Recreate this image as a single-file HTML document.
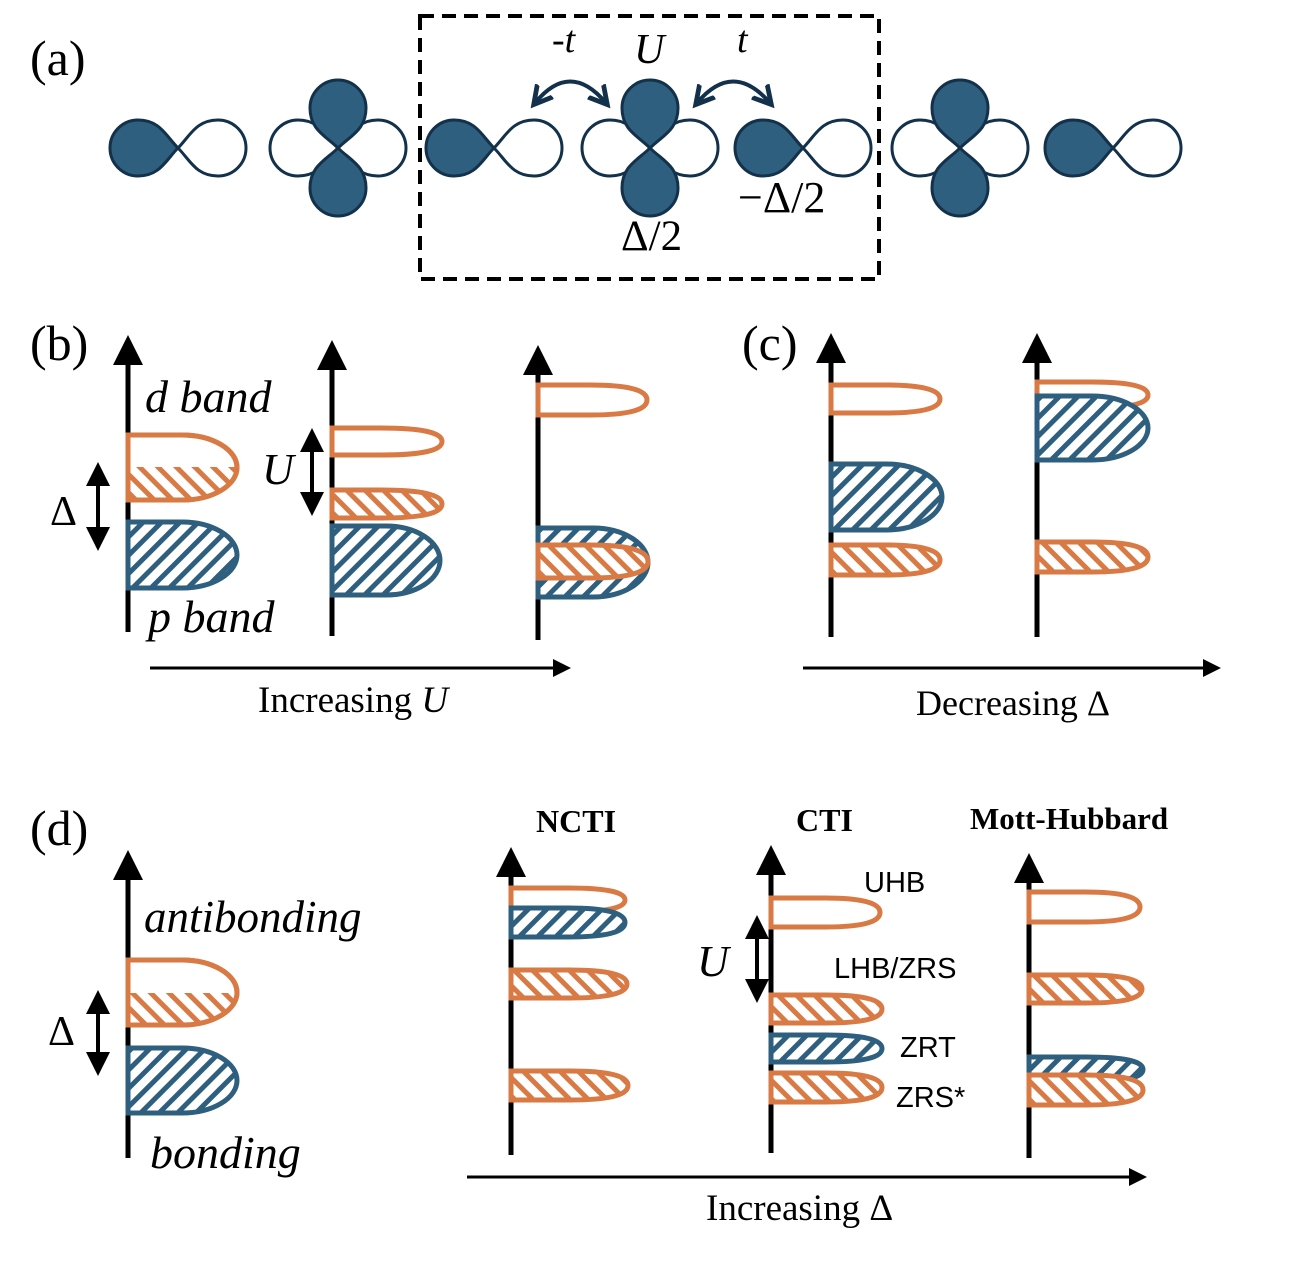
<!DOCTYPE html>
<html><head><meta charset="utf-8"><style>
html,body{margin:0;padding:0;background:#fff}
svg{display:block}
.s{font-family:"Liberation Serif",serif;fill:#000}
.i{font-style:italic}
.a{font-family:"Liberation Sans",sans-serif;fill:#000;font-size:29px}
.o{fill:#fff;stroke:#d97a45;stroke-width:5}
.oh{fill:url(#ho);stroke:#d97a45;stroke-width:5}
.bh{fill:url(#hb);stroke:#2f5f7f;stroke-width:5}
.ax{stroke:#000;stroke-width:5;fill:none}
</style></head><body>
<svg width="1300" height="1274" viewBox="0 0 1300 1274" xmlns="http://www.w3.org/2000/svg">
<defs>
<pattern id="hb" width="13" height="13" patternUnits="userSpaceOnUse" patternTransform="rotate(45)">
<rect width="13" height="13" fill="#fff"/><rect width="5" height="13" fill="#2f5f7f"/></pattern>
<pattern id="ho" width="13" height="13" patternUnits="userSpaceOnUse" patternTransform="rotate(-45)">
<rect width="13" height="13" fill="#fff"/><rect width="5" height="13" fill="#d97a45"/></pattern>
<marker id="ar" markerWidth="6" markerHeight="6" refX="3" refY="3" orient="auto-start-reverse" markerUnits="strokeWidth">
<path d="M0,0 L6,3 L0,6 Z" fill="#000"/></marker>
<marker id="ca" markerWidth="6" markerHeight="6" refX="4" refY="3" orient="auto-start-reverse" markerUnits="strokeWidth">
<path d="M0,0.5 L4.5,3 L0,5.5" fill="none" stroke="#13314a" stroke-width="1.2"/></marker>
<path id="lf" d="M0,0 C12,-12 18,-28 40,-28 A28,28 0 0 1 40,28 C18,28 12,12 0,0Z" fill="#2f5f7f" stroke="#13314a" stroke-width="3"/>
<path id="le" d="M0,0 C12,-12 18,-28 40,-28 A28,28 0 0 1 40,28 C18,28 12,12 0,0Z" fill="#fff" stroke="#13314a" stroke-width="3"/>
<g id="po"><use href="#le"/><use href="#lf" transform="rotate(180)"/></g>
<g id="do"><use href="#le"/><use href="#le" transform="rotate(180)"/><use href="#lf" transform="rotate(90)"/><use href="#lf" transform="rotate(-90)"/></g>
<clipPath id="c1"><rect x="100" y="467" width="200" height="50"/></clipPath>
<clipPath id="c2"><rect x="100" y="993" width="200" height="50"/></clipPath>
</defs>

<!-- (a) -->
<text class="s" x="30" y="75" font-size="50">(a)</text>
<rect x="420" y="16" width="459" height="263" fill="none" stroke="#000" stroke-width="4" stroke-dasharray="14,8"/>
<use href="#po" transform="translate(178,148)"/>
<use href="#do" transform="translate(338,148)"/>
<use href="#po" transform="translate(494,148)"/>
<use href="#do" transform="translate(650,148)"/>
<use href="#po" transform="translate(803,148)"/>
<use href="#do" transform="translate(960,148)"/>
<use href="#po" transform="translate(1113,148)"/>
<path d="M535,103 Q570,60 606,103" fill="none" stroke="#13314a" stroke-width="4" marker-start="url(#ca)" marker-end="url(#ca)"/>
<path d="M697,103 Q733,60 770,103" fill="none" stroke="#13314a" stroke-width="4" marker-start="url(#ca)" marker-end="url(#ca)"/>
<text class="s i" x="552" y="52" font-size="38">-t</text>
<text class="s i" x="634" y="63" font-size="42">U</text>
<text class="s i" x="737" y="52" font-size="38">t</text>
<text class="s" x="621" y="250" font-size="43">Δ/2</text>
<text class="s" x="738" y="212" font-size="44">−Δ/2</text>

<!-- (b) -->
<text class="s" x="30" y="360" font-size="50">(b)</text>
<line class="ax" x1="128" y1="632" x2="128" y2="350" marker-end="url(#ar)"/>
<line class="ax" x1="332" y1="636" x2="332" y2="355" marker-end="url(#ar)"/>
<line class="ax" x1="538" y1="640" x2="538" y2="360" marker-end="url(#ar)"/>
<path class="o" d="M128,435 H182 A55,32.5 0 0 1 182,500 H128Z"/>
<path d="M128,435 H182 A55,32.5 0 0 1 182,500 H128Z" fill="url(#ho)" clip-path="url(#c1)"/>
<path d="M128,435 H182 A55,32.5 0 0 1 182,500 H128Z" fill="none" stroke="#d97a45" stroke-width="5"/>
<path class="bh" d="M128,522 H182 A55,33 0 0 1 182,588 H128Z"/>
<path class="o" d="M332,428 H381 Q442,428 442,441.5 Q442,455 381,455 H332Z"/>
<path class="oh" d="M332,490 H381 Q442,490 442,504 Q442,518 381,518 H332Z"/>
<path class="bh" d="M332,526 H386 A54,34.5 0 0 1 386,595 H332Z"/>
<path class="o" d="M538,385 H590 Q647,385 647,400 Q647,415 590,415 H538Z"/>
<path class="bh" d="M538,528 H593 A55,34.5 0 0 1 593,597 H538Z"/>
<path class="oh" d="M538,545 H590 Q648,545 648,561.5 Q648,578 590,578 H538Z"/>
<line x1="98" y1="474" x2="98" y2="539" stroke="#000" stroke-width="4" marker-start="url(#ar)" marker-end="url(#ar)"/>
<line x1="312" y1="440" x2="312" y2="504" stroke="#000" stroke-width="4" marker-start="url(#ar)" marker-end="url(#ar)"/>
<text class="s" x="50" y="525" font-size="42">Δ</text>
<text class="s i" x="262" y="484" font-size="44">U</text>
<text class="s i" x="145" y="412" font-size="46">d band</text>
<text class="s i" x="148" y="632" font-size="46">p band</text>
<line x1="150" y1="668" x2="562" y2="668" stroke="#000" stroke-width="3" marker-end="url(#ar)"/>
<text class="s" x="258" y="712" font-size="37">Increasing <tspan class="i">U</tspan></text>

<!-- (c) -->
<text class="s" x="742" y="360" font-size="50">(c)</text>
<line class="ax" x1="831" y1="637" x2="831" y2="348" marker-end="url(#ar)"/>
<line class="ax" x1="1037" y1="637" x2="1037" y2="348" marker-end="url(#ar)"/>
<path class="o" d="M831,385 H885 Q940,385 940,399 Q940,413 885,413 H831Z"/>
<path class="bh" d="M831,464 H886 A56,33 0 0 1 886,530 H831Z"/>
<path class="oh" d="M831,545 H885 Q940,545 940,560 Q940,575 885,575 H831Z"/>
<path class="o" d="M1037,382 H1092 Q1148,382 1148,395 Q1148,408 1092,408 H1037Z"/>
<path class="bh" d="M1037,396 H1092 A56,32 0 0 1 1092,460 H1037Z"/>
<path class="oh" d="M1037,542 H1092 Q1148,542 1148,557 Q1148,572 1092,572 H1037Z"/>
<line x1="803" y1="668" x2="1212" y2="668" stroke="#000" stroke-width="3" marker-end="url(#ar)"/>
<text class="s" x="916" y="715" font-size="36">Decreasing Δ</text>

<!-- (d) -->
<text class="s" x="30" y="845" font-size="50">(d)</text>
<line class="ax" x1="128" y1="1158" x2="128" y2="865" marker-end="url(#ar)"/>
<path class="o" d="M128,960 H182 A55,32.5 0 0 1 182,1025 H128Z"/>
<path d="M128,960 H182 A55,32.5 0 0 1 182,1025 H128Z" fill="url(#ho)" clip-path="url(#c2)"/>
<path d="M128,960 H182 A55,32.5 0 0 1 182,1025 H128Z" fill="none" stroke="#d97a45" stroke-width="5"/>
<path class="bh" d="M128,1048 H182 A55,32.5 0 0 1 182,1113 H128Z"/>
<line x1="98" y1="1002" x2="98" y2="1064" stroke="#000" stroke-width="4" marker-start="url(#ar)" marker-end="url(#ar)"/>
<text class="s" x="48" y="1045" font-size="42">Δ</text>
<text class="s i" x="144" y="932" font-size="45">antibonding</text>
<text class="s i" x="150" y="1168" font-size="46">bonding</text>

<text class="s" x="536" y="832" font-size="32" font-weight="bold">NCTI</text>
<text class="s" x="796" y="831" font-size="32" font-weight="bold">CTI</text>
<text class="s" x="970" y="829" font-size="31" font-weight="bold">Mott-Hubbard</text>

<line class="ax" x1="511" y1="1155" x2="511" y2="862" marker-end="url(#ar)"/>
<path class="o" d="M511,888 H568 Q625,888 625,900 Q625,912 568,912 H511Z"/>
<path class="bh" d="M511,908 H568 Q625,908 625,922.5 Q625,937 568,937 H511Z"/>
<path class="oh" d="M511,970 H569 Q627,970 627,984 Q627,998 569,998 H511Z"/>
<path class="oh" d="M511,1071 H570 Q628,1071 628,1085.5 Q628,1100 570,1100 H511Z"/>

<line class="ax" x1="771" y1="1153" x2="771" y2="860" marker-end="url(#ar)"/>
<path class="o" d="M771,898 H825 Q880,898 880,912.5 Q880,927 825,927 H771Z"/>
<path class="oh" d="M771,995 H826 Q882,995 882,1009 Q882,1023 826,1023 H771Z"/>
<path class="bh" d="M771,1035 H826 Q882,1035 882,1048.5 Q882,1062 826,1062 H771Z"/>
<path class="oh" d="M771,1073 H826 Q882,1073 882,1087.5 Q882,1102 826,1102 H771Z"/>
<line x1="757" y1="927" x2="757" y2="991" stroke="#000" stroke-width="4" marker-start="url(#ar)" marker-end="url(#ar)"/>
<text class="s i" x="697" y="976" font-size="44">U</text>
<text class="a" x="864" y="892">UHB</text>
<text class="a" x="834" y="978">LHB/ZRS</text>
<text class="a" x="900" y="1057">ZRT</text>
<text class="a" x="896" y="1107">ZRS*</text>

<line class="ax" x1="1029" y1="1158" x2="1029" y2="868" marker-end="url(#ar)"/>
<path class="o" d="M1029,892 H1085 Q1140,892 1140,907 Q1140,922 1085,922 H1029Z"/>
<path class="oh" d="M1029,975 H1086 Q1142,975 1142,989 Q1142,1003 1086,1003 H1029Z"/>
<path class="bh" d="M1029,1057 H1086 Q1143,1057 1143,1069.5 Q1143,1082 1086,1082 H1029Z"/>
<path class="oh" d="M1029,1075 H1086 Q1143,1075 1143,1090 Q1143,1105 1086,1105 H1029Z"/>

<line x1="467" y1="1177" x2="1138" y2="1177" stroke="#000" stroke-width="3" marker-end="url(#ar)"/>
<text class="s" x="706" y="1220" font-size="37">Increasing Δ</text>
</svg>
</body></html>
